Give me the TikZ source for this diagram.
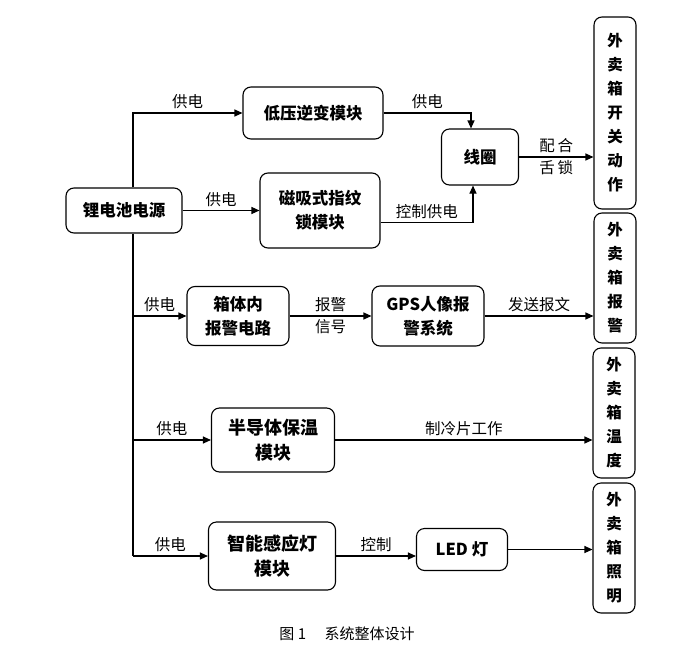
\documentclass[tikz,border=0pt]{standalone}
\usepackage{fontspec}
\setmainfont{Noto Sans CJK SC}
\usetikzlibrary{arrows.meta}

\begin{document}
\begin{tikzpicture}[x=1pt, y=-1pt,
    box/.style={draw, line width=1.1pt, rounded corners=8pt, align=center, inner sep=0pt, font=\fontsize{16.5}{24}\selectfont\bfseries},
    big/.style={box, font=\fontsize{18}{25}\selectfont\bfseries},
    side/.style={box, minimum width=42, minimum height=130, font=\fontsize{15.5}{24}\selectfont\bfseries},
    lbl/.style={font=\fontsize{15.5}{20}\selectfont},
    line/.style={line width=1.1pt},
    arr/.style={line, -{Triangle[length=8pt, width=7pt]}}]
    \useasboundingbox (0,0) rectangle (700,650);
    \coordinate (trunk) at (133,0);
    \node[box, minimum width=116, minimum height=45] (src) at (124,210.5) {锂电池电源};
    \node[box, minimum width=140, minimum height=52] (inv) at (313,113) {低压逆变模块};
    \node[box, minimum width=120, minimum height=75] (lock) at (320,210.5) {磁吸式指纹\\锁模块};
    \node[box, minimum width=77, minimum height=56] (coil) at (480,157) {线圈};
    \node[box, minimum width=102, minimum height=59] (alarm) at (238,316) {箱体内\\报警电路};
    \node[box, minimum width=112, minimum height=60] (gps) at (428,316) {GPS人像报\\警系统};
    \node[big, minimum width=123, minimum height=64] (semi) at (273,440) {半导体保温\\模块};
    \node[big, minimum width=127, minimum height=68] (lamp) at (272,556) {智能感应灯\\模块};
    \node[box, minimum width=91, minimum height=42] (led) at (462,549.5) {LED 灯};
    \node[side, minimum height=192] (out1) at (615,113) {外\\卖\\箱\\开\\关\\动\\作};
    \node[side] (out2) at (615,278) {外\\卖\\箱\\报\\警};
    \node[side] (out3) at (614,413) {外\\卖\\箱\\温\\度};
    \node[side] (out4) at (614,548) {外\\卖\\箱\\照\\明};
    \draw[arr] (src.north -| trunk) |- (inv.west) node[lbl, pos=0.75, above] {供电};
    \draw[arr] (src.east) -- (lock.west) node[lbl, midway, above] {供电};
    \draw[arr] (inv.east) -| ([xshift=-9pt]coil.north) node[lbl, pos=0.25, above] {供电};
    \draw[arr] ([yshift=-12pt]lock.east) -| ([xshift=-7pt]coil.south) node[lbl, pos=0.25, above] {控制供电};
    \draw[arr] (coil.east) -- (coil.east -| out1.west) node[lbl, midway, above] {配\,合} node[lbl, midway, below] {舌\,锁};
    \draw[line] (src.south -| trunk) -- (trunk |- lamp.west);
    \draw[arr] (trunk |- alarm.west) -- (alarm.west) node[lbl, midway, above] {供电};
    \draw[arr] (alarm) -- (gps) node[lbl, midway, above] {报警} node[lbl, midway, below] {信号};
    \draw[arr] (gps.east) -- (gps.east -| out2.west) node[lbl, midway, above] {发送报文};
    \draw[arr] (trunk |- semi.west) -- (semi.west) node[lbl, midway, above] {供电};
    \draw[arr] (semi.east) -- (semi.east -| out3.west) node[lbl, midway, above] {制冷片工作};
    \draw[arr] (trunk |- lamp.west) -- (lamp.west) node[lbl, midway, above] {供电};
    \draw[arr] (lamp.east) -- (lamp.east -| led.west) node[lbl, midway, above] {控制};
    \draw[arr] (led.east) -- (led.east -| out4.west);
    \node[font=\fontsize{15}{16}\selectfont] (cap) at (347,634) {图 1\quad\ 系统整体设计};
\end{tikzpicture}
\end{document}
